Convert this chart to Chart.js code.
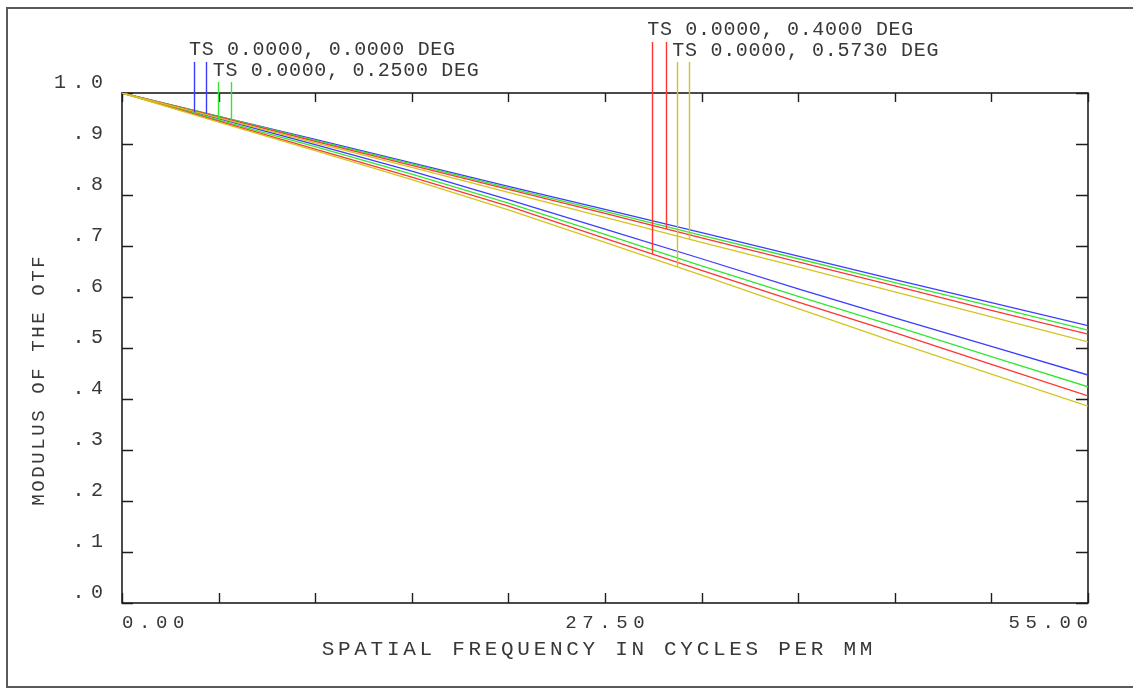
<!DOCTYPE html>
<html><head><meta charset="utf-8">
<script src="https://cdn.jsdelivr.net/npm/chart.js@4.4.1/dist/chart.umd.min.js"></script>
<style>html,body{margin:0;padding:0;background:#fff;}#wrap{position:relative;width:1133px;height:688px;}</style>
</head><body><div id="wrap"><canvas id="c" width="1133" height="688"></canvas></div>
<script>
// ---- data ----
const freq = [0, 5.5, 11, 16.5, 22, 27.5, 33, 38.5, 44, 49.5, 55];
const blueS   = [1.000,0.954,0.909,0.863,0.817,0.772,0.726,0.680,0.634,0.589,0.544];
const greenS  = [1.000,0.954,0.907,0.861,0.814,0.768,0.721,0.675,0.628,0.582,0.535];
const redS    = [1.000,0.953,0.905,0.858,0.811,0.764,0.716,0.669,0.622,0.574,0.527];
const yellowS = [1.000,0.951,0.902,0.854,0.805,0.756,0.707,0.659,0.610,0.561,0.512];
const blueT   = [1.000,0.950,0.899,0.847,0.791,0.733,0.675,0.616,0.559,0.503,0.447];
const greenT  = [1.000,0.947,0.895,0.841,0.784,0.723,0.661,0.601,0.543,0.483,0.424];
const redT    = [1.000,0.945,0.890,0.835,0.778,0.715,0.652,0.590,0.530,0.468,0.406];
const yellowT = [1.000,0.943,0.887,0.830,0.771,0.707,0.643,0.577,0.512,0.449,0.386];
const fieldLabels = ['TS 0.0000, 0.0000 DEG','TS 0.0000, 0.2500 DEG','TS 0.0000, 0.4000 DEG','TS 0.0000, 0.5730 DEG'];
const markerFreq = [[4.1,4.77],[5.45,6.19],[30.19,30.95],[31.62,32.28]];
const xTicks = [0,5.5,11,16.5,22,27.5,33,38.5,44,49.5,55];
const xTickLabels = ['0.00','','','','','27.50','','','','','55.00'];
const yTicks = [0,0.1,0.2,0.3,0.4,0.5,0.6,0.7,0.8,0.9,1.0];
const yTickLabels = ['.0','.1','.2','.3','.4','.5','.6','.7','.8','.9','1.0'];
const xTitle = 'SPATIAL FREQUENCY IN CYCLES PER MM';
const yTitle = 'MODULUS OF THE OTF';

// ---- styles ----
const colors = ['#3c3cff','#30e830','#ff3434','#d4c41e'];
const fields = [
  {T: blueT, S: blueS}, {T: greenT, S: greenS}, {T: redT, S: redS}, {T: yellowT, S: yellowS}
];
const labelPos = [ {base:55, mtop:62}, {base:76, mtop:82}, {base:35, mtop:42}, {base:56, mtop:62} ];
const TXT = '#383838';
const FONT = '"Liberation Mono", "DejaVu Sans Mono", monospace';

const datasets = [];
fields.forEach((f, i) => {
  ['T','S'].forEach(k => {
    datasets.push({
      label: fieldLabels[i] + ' ' + k,
      data: freq.map((x, j) => ({x: x, y: f[k][j]})),
      borderColor: colors[i], borderWidth: 1.3, pointRadius: 0, tension: 0, fill: false,
      order: 3 - i
    });
  });
});

function valAt(arr, f) {
  for (let i = 0; i < freq.length - 1; i++) {
    if (f >= freq[i] && f <= freq[i+1]) {
      const t = (f - freq[i]) / (freq[i+1] - freq[i]);
      return arr[i] + t * (arr[i+1] - arr[i]);
    }
  }
  return arr[arr.length-1];
}

function spacedText(ctx, s, x, y, align, sp) {
  ctx.save();
  try { ctx.letterSpacing = sp + 'px'; } catch(e) {}
  ctx.textAlign = 'left';
  const w = ctx.measureText(s).width;
  const supported = ctx.letterSpacing === sp + 'px';
  const vis = supported ? w - sp : w;
  let x0 = x;
  if (align === 'right') x0 = x - vis;
  else if (align === 'center') x0 = x - vis / 2;
  ctx.fillText(s, x0, y);
  ctx.restore();
}

const deco = {
  id: 'deco',
  beforeDatasetsDraw(chart) {
    const ctx = chart.ctx, a = chart.chartArea;
    const xs = chart.scales.x, ys = chart.scales.y;
    ctx.save();
    // outer frame
    ctx.strokeStyle = '#5a5a5a'; ctx.lineWidth = 2;
    ctx.beginPath();
    ctx.moveTo(1133, 8); ctx.lineTo(7, 8); ctx.lineTo(7, 687); ctx.lineTo(1133, 687);
    ctx.stroke();
    // plot box
    ctx.strokeStyle = '#1e1e1e'; ctx.lineWidth = 1.6;
    ctx.strokeRect(a.left, a.top, a.right - a.left, a.bottom - a.top);
    ctx.lineWidth = 1.4;
    ctx.beginPath();
    xTicks.forEach(v => {
      const px = Math.round(xs.getPixelForValue(v)) + 0.5;
      ctx.moveTo(px, a.bottom); ctx.lineTo(px, a.bottom - 10);
      ctx.moveTo(px, a.top); ctx.lineTo(px, a.top + 9);
    });
    yTicks.forEach(v => {
      const py = Math.round(ys.getPixelForValue(v)) + 0.5;
      ctx.moveTo(a.left, py); ctx.lineTo(a.left + 11, py);
      ctx.moveTo(a.right, py); ctx.lineTo(a.right - 12, py);
    });
    ctx.stroke();
    // tick labels
    ctx.fillStyle = TXT; ctx.textBaseline = 'alphabetic';
    ctx.font = '20px ' + FONT;
    yTicks.forEach((v, i) => {
      spacedText(ctx, yTickLabels[i], 103, ys.getPixelForValue(v) - 5, 'right', 6.5);
    });
    ctx.font = '19px ' + FONT;
    xTicks.forEach((v, i) => {
      const s = xTickLabels[i]; if (!s) return;
      const px = xs.getPixelForValue(v);
      const al = i === 0 ? 'left' : (i === xTicks.length - 1 ? 'right' : 'center');
      spacedText(ctx, s, px, 628, al, 5.6);
    });
    // titles
    ctx.font = '21px ' + FONT;
    spacedText(ctx, xTitle, 597, 655, 'center', 3.7);
    ctx.save();
    ctx.translate(44, 381); ctx.rotate(-Math.PI / 2);
    ctx.font = '19px ' + FONT;
    spacedText(ctx, yTitle, 0, 0, 'center', 2.6);
    ctx.restore();
    ctx.restore();
  },
  afterDatasetsDraw(chart) {
    const ctx = chart.ctx;
    const xs = chart.scales.x, ys = chart.scales.y;
    ctx.save();
    ctx.lineWidth = 1.4;
    fields.forEach((f, i) => {
      const m = markerFreq[i];
      const p = labelPos[i];
      ctx.strokeStyle = colors[i];
      ctx.beginPath();
      [['T', m[0]], ['S', m[1]]].forEach(([k, fx]) => {
        const px = Math.round(xs.getPixelForValue(fx)) + 0.5;
        const py = ys.getPixelForValue(valAt(f[k], fx));
        ctx.moveTo(px, p.mtop); ctx.lineTo(px, py);
      });
      ctx.stroke();
      ctx.fillStyle = TXT;
      ctx.font = '20px ' + FONT;
      spacedText(ctx, fieldLabels[i], xs.getPixelForValue(m[0]) - 5, p.base, 'left', 0.7);
    });
    ctx.restore();
  }
};

new Chart(document.getElementById('c').getContext('2d'), {
  type: 'line',
  data: { datasets: datasets },
  options: {
    responsive: false, animation: false, events: [],
    layout: { padding: { left: 122, right: 45, top: 93, bottom: 85 } },
    plugins: { legend: { display: false }, tooltip: { enabled: false } },
    scales: {
      x: { type: 'linear', min: 0, max: 55, display: false },
      y: { type: 'linear', min: 0, max: 1, display: false }
    }
  },
  plugins: [deco]
});
</script>
</body></html>
